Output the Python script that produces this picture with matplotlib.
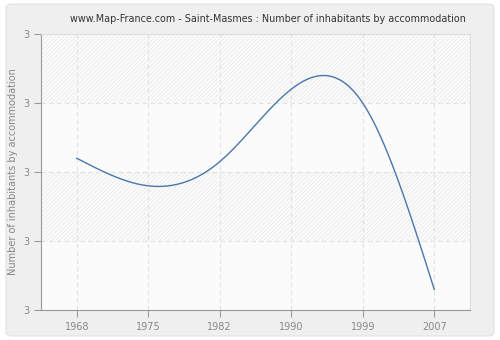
import matplotlib
matplotlib.use('Agg')
import matplotlib.pyplot as plt
from matplotlib.patches import FancyBboxPatch, Rectangle
from matplotlib.ticker import FormatStrFormatter
import numpy as np

years = ['1968', '1975', '1982', '1990', '1999', '2007']
inhabitants = [3.04, 2.96, 3.03, 3.24, 3.20, 2.66]
y_ticks = [2.6, 2.8, 3.0, 3.2, 3.4]


def natural_spline(x, y, n=300):
    # natural cubic spline through the points, solved as a tridiagonal system
    x = np.asarray(x, float)
    y = np.asarray(y, float)
    k = len(x)
    h = np.diff(x)
    A = np.zeros((k, k))
    b = np.zeros(k)
    A[0, 0] = A[-1, -1] = 1
    for i in range(1, k - 1):
        A[i, i - 1] = h[i - 1]
        A[i, i] = 2 * (h[i - 1] + h[i])
        A[i, i + 1] = h[i]
        b[i] = 3 * ((y[i + 1] - y[i]) / h[i] - (y[i] - y[i - 1]) / h[i - 1])
    c = np.linalg.solve(A, b)
    xs = np.linspace(x[0], x[-1], n)
    ys = np.empty_like(xs)
    for j, t in enumerate(xs):
        i = min(np.searchsorted(x, t, side='right') - 1, k - 2)
        d = t - x[i]
        bi = (y[i + 1] - y[i]) / h[i] - h[i] * (2 * c[i] + c[i + 1]) / 3
        di = (c[i + 1] - c[i]) / (3 * h[i])
        ys[j] = y[i] + bi * d + c[i] * d ** 2 + di * d ** 3
    return xs, ys


fig = plt.figure(figsize=(5, 3.4), dpi=100)
fig.patch.set_facecolor('white')
fig.patches.append(FancyBboxPatch((0.012, 0.012), 0.976, 0.976,
                                  boxstyle='round,pad=0,rounding_size=0.012',
                                  transform=fig.transFigure, facecolor='#efefef',
                                  edgecolor='#e2e2e2', linewidth=0.8, zorder=-5))

ax = fig.add_axes([0.082, 0.088, 0.858, 0.812])
ax.set_facecolor('#fbfbfb')

x = np.arange(len(years))
ax.set_xlim(-0.5, len(years) - 0.5)
ax.set_ylim(y_ticks[0], y_ticks[-1])

# alternating hatched bands between grid lines
for i in range(len(y_ticks) - 1):
    if i % 2 == 1:
        ax.add_patch(Rectangle((-0.5, y_ticks[i]), len(years), y_ticks[i + 1] - y_ticks[i],
                               facecolor='#fdfdfd', edgecolor='#efefef', hatch='////////',
                               linewidth=0, zorder=0))

xs, ys = natural_spline(x, inhabitants)
ax.plot(xs, ys, color='#4a76ae', linewidth=1.0, zorder=3)

ax.set_xticks(x)
ax.set_xticklabels(years)
ax.set_yticks(y_ticks)
ax.yaxis.set_major_formatter(FormatStrFormatter('%.0f'))
ax.grid(True, color='#e2e2e2', linestyle=(0, (4, 3)), linewidth=0.8)
ax.set_axisbelow(True)

for side in ['top', 'right']:
    ax.spines[side].set_color('#dddddd')
for side in ['left', 'bottom']:
    ax.spines[side].set_color('#999999')
ax.tick_params(colors='#999999', labelcolor='#888888', labelsize=7, length=5, width=0.8)

ax.set_ylabel('Number of inhabitants by accommodation', fontsize=7, color='#888888')
fig.text(0.535, 0.945, 'www.Map-France.com - Saint-Masmes : Number of inhabitants by accommodation',
         ha='center', va='center', fontsize=6.9, color='#333333')

fig.savefig('out.png', dpi=100, facecolor=fig.get_facecolor())
